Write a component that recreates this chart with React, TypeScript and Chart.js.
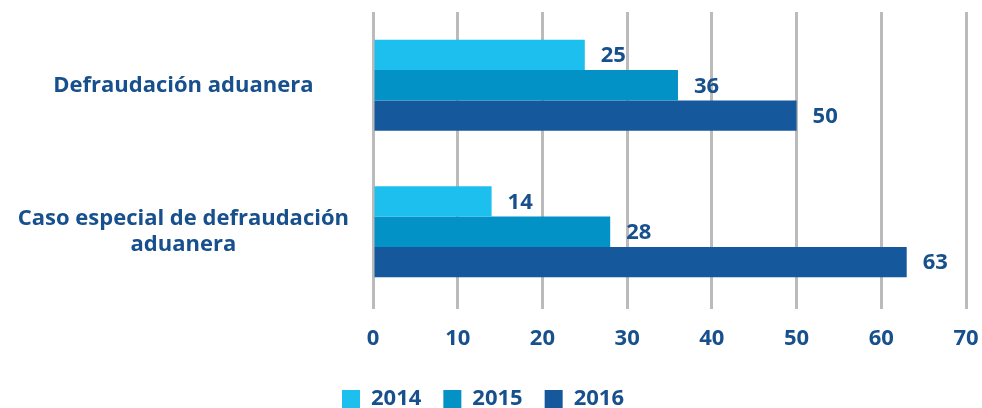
import React, { useEffect, useRef } from 'react';
import { Chart, registerables } from 'chart.js';

Chart.register(...registerables);

const categories: string[][] = [['Defraudación aduanera'], ['Caso especial de defraudación', 'aduanera']];
const seriesNames = ['2014', '2015', '2016'];
const values2014 = [25, 14];
const values2015 = [36, 28];
const values2016 = [50, 63];
const xTicks = [0, 10, 20, 30, 40, 50, 60, 70];

const colors = ['#1dbfee', '#0392c6', '#15589c'];
const textColor = '#17508c';
const fontFamily = '"Open Sans", "DejaVu Sans", sans-serif';

const valueLabels = {
  id: 'valueLabels',
  afterDatasetsDraw(chart: any) {
    const ctx = chart.ctx;
    ctx.save();
    ctx.font = `bold 22px ${fontFamily}`;
    ctx.fillStyle = textColor;
    ctx.textAlign = 'left';
    ctx.textBaseline = 'middle';
    chart.data.datasets.forEach((ds: any, i: number) => {
      const meta = chart.getDatasetMeta(i);
      meta.data.forEach((el: any, j: number) => {
        ctx.fillText(String(ds.data[j]), el.x + 16, el.y + 1);
      });
    });
    ctx.restore();
  },
};

export default function App() {
  const ref = useRef<HTMLCanvasElement | null>(null);
  useEffect(() => {
    if (!ref.current) return;
    const chart = new Chart(ref.current, {
      type: 'bar',
      data: {
        labels: categories,
        datasets: [
          { label: seriesNames[0], data: values2014, backgroundColor: colors[0] },
          { label: seriesNames[1], data: values2015, backgroundColor: colors[1] },
          { label: seriesNames[2], data: values2016, backgroundColor: colors[2] },
        ],
      },
      options: {
        indexAxis: 'y',
        animation: false,
        responsive: true,
        maintainAspectRatio: false,
        datasets: { bar: { categoryPercentage: 0.62, barPercentage: 1 } },
        layout: { padding: { top: 12, right: 16, left: 0, bottom: 0 } },
        plugins: {
          tooltip: { enabled: false },
          legend: {
            position: 'bottom',
            labels: {
              boxWidth: 18,
              boxHeight: 18,
              padding: 22,
              color: textColor,
              font: { family: fontFamily, weight: 'bold', size: 22 },
            },
          },
        },
        scales: {
          x: {
            min: 0,
            max: 70,
            afterBuildTicks: (scale: any) => {
              scale.ticks = xTicks.map((v) => ({ value: v }));
            },
            afterFit: (scale: any) => {
              scale.height = 61;
              scale.paddingLeft = 0;
              scale.paddingRight = 0;
            },
            ticks: {
              color: textColor,
              padding: 17,
              font: { family: fontFamily, weight: 'bold', size: 22 },
            },
            grid: { color: '#bbbbbb', lineWidth: 3, tickLength: 4, drawTicks: true },
            border: { display: false },
          },
          y: {
            afterFit: (scale: any) => {
              scale.width = 373;
              scale.paddingTop = 0;
              scale.paddingBottom = 0;
            },
            ticks: {
              color: textColor,
              crossAlign: 'center',
              padding: 24,
              font: { family: fontFamily, weight: 'bold', size: 22 },
            },
            grid: { display: false, drawTicks: false },
            border: { display: false },
          },
        },
      },
      plugins: [valueLabels],
    } as any);
    return () => chart.destroy();
  }, []);
  return (
    <div style={{ position: 'absolute', left: 0, top: 0, width: 982, height: 408, overflow: 'hidden' }}>
      <div style={{ position: 'relative', width: 982, height: 420 }}>
        <canvas ref={ref} />
      </div>
    </div>
  );
}
